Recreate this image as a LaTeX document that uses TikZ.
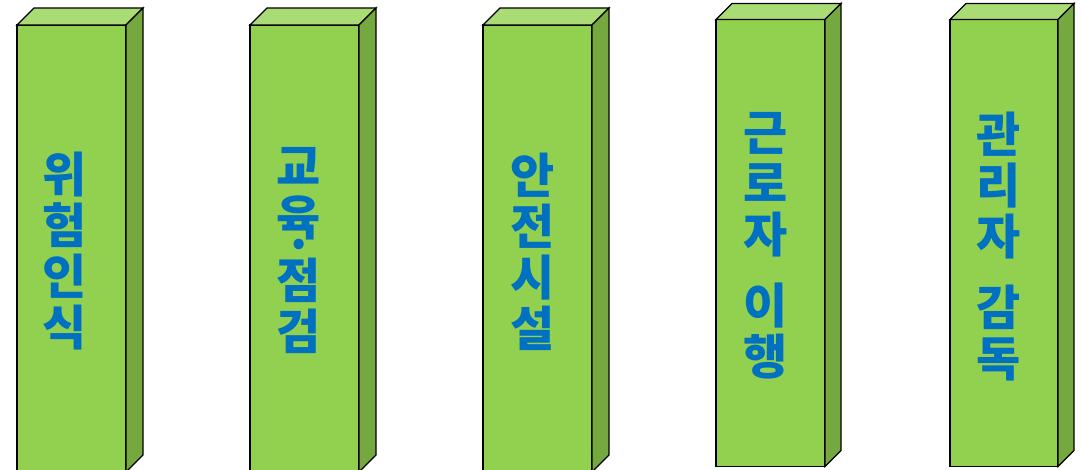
\documentclass[tikz,border=0pt]{standalone}
\usepackage{fontspec}
\newfontfamily\kr{Noto Sans CJK KR}
\definecolor{frontg}{HTML}{92D050}
\definecolor{topg}{HTML}{A9DC74}
\definecolor{sideg}{HTML}{76A840}
\definecolor{txtblue}{HTML}{0070C0}
\newcommand\drawpillar[4]{%
  \filldraw[pillarline,fill=frontg] (#1,#2) rectangle (#1+#3,#2+447);
  \filldraw[pillarline,fill=topg] (#1,#2) -- (#1+#4,#2-#4) -- (#1+#3+#4,#2-#4) -- (#1+#3,#2) -- cycle;
  \filldraw[pillarline,fill=sideg] (#1+#3,#2) -- (#1+#3+#4,#2-#4) -- (#1+#3+#4,#2+447-#4) -- (#1+#3,#2+447) -- cycle;
}
\begin{document}
\begin{tikzpicture}[x=1pt,y=-1pt,
  pillarline/.style={draw=black,line width=1.3pt,line join=miter},
  lbl/.style={font=\kr\bfseries\fontsize{48}{51}\selectfont,text=txtblue,align=center,inner sep=0pt,anchor=north}]
\useasboundingbox (0,0) rectangle (1082,470);
\clip (0,0) rectangle (1082,470);
\drawpillar{17}{25}{109}{17}
\drawpillar{250}{25}{109}{17}
\drawpillar{483}{25}{109}{17}
\drawpillar{716}{19.5}{109}{16}
\drawpillar{950}{19.5}{108}{16}
\node[lbl] (t1) at (65,152) {위\\험\\인\\식};
\node[lbl] (t2a) at (299,147) {교\\육};
\node[lbl,anchor=center] (t2b) at (299.5,251) {·};
\node[lbl] (t2c) at (299,258) {점\\검};
\node[lbl] (t3) at (532.5,152.5) {안\\전\\시\\설};
\node[lbl] (t4) at (765.5,112) {근\\로\\자\\[20pt]이\\행};
\node[lbl] (t5) at (998.5,112) {관\\리\\자\\[20pt]감\\독};
\end{tikzpicture}
\end{document}
